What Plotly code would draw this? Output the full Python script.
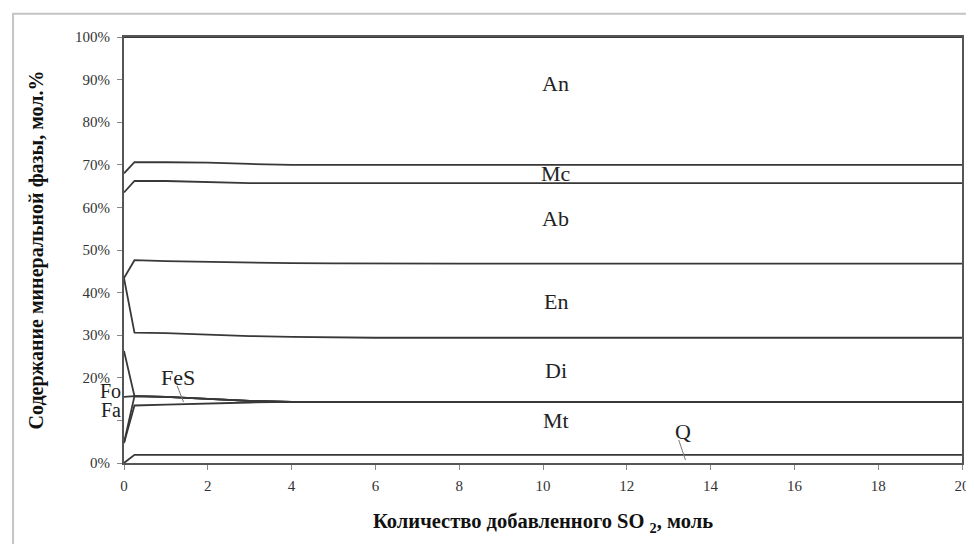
import plotly.graph_objects as go

# SO2 added, mol
so2 = [0, 0.25, 1, 2, 3, 4, 5, 6, 8, 10, 12, 14, 16, 18, 20]

# mineral phase content, mol.% (stacked from bottom to top)
Q   = [0.0, 1.9, 1.9, 1.9, 1.9, 1.9, 1.9, 1.9, 1.9, 1.9, 1.9, 1.9, 1.9, 1.9, 1.9]
Mt  = [4.7, 11.6, 11.8, 12.1, 12.3, 12.45, 12.4, 12.4, 12.4, 12.4, 12.4, 12.4, 12.4, 12.4, 12.4]
FeS = [0.0, 2.2, 1.8, 1.0, 0.4, 0.0, 0.0, 0.0, 0.0, 0.0, 0.0, 0.0, 0.0, 0.0, 0.0]
Fa  = [10.8, 0, 0, 0, 0, 0, 0, 0, 0, 0, 0, 0, 0, 0, 0]
Fo  = [10.8, 0, 0, 0, 0, 0, 0, 0, 0, 0, 0, 0, 0, 0, 0]
Di  = [17.1, 14.9, 15.0, 15.1, 15.2, 15.25, 15.2, 15.1, 15.1, 15.1, 15.1, 15.1, 15.1, 15.1, 15.1]
En  = [0.0, 17.0, 16.9, 17.1, 17.2, 17.3, 17.35, 17.4, 17.4, 17.4, 17.4, 17.4, 17.4, 17.4, 17.4]
Ab  = [20.1, 18.6, 18.8, 18.7, 18.7, 18.8, 18.85, 18.9, 18.9, 18.9, 18.9, 18.9, 18.9, 18.9, 18.9]
Mc  = [4.5, 4.4, 4.4, 4.6, 4.5, 4.3, 4.3, 4.3, 4.3, 4.3, 4.3, 4.3, 4.3, 4.3, 4.3]
An  = [32.0, 29.4, 29.4, 29.5, 29.8, 30.0, 30.0, 30.0, 30.0, 30.0, 30.0, 30.0, 30.0, 30.0, 30.0]

series = [("Q", Q), ("Mt", Mt), ("FeS", FeS), ("Fa", Fa), ("Fo", Fo),
          ("Di", Di), ("En", En), ("Ab", Ab), ("Mc", Mc), ("An", An)]

y_ticks = [0, 10, 20, 30, 40, 50, 60, 70, 80, 90, 100]
y_ticktext = ["0%", "", "20%", "30%", "40%", "50%", "60%", "70%", "80%", "90%", "100%"]
x_ticks = [0, 2, 4, 6, 8, 10, 12, 14, 16, 18, 20]

FONT = "Liberation Serif"
LINE = "#383838"

fig = go.Figure()
for name, vals in series:
    fig.add_trace(go.Scatter(
        x=so2, y=vals, name=name, mode="lines",
        stackgroup="one", groupnorm="percent",
        line=dict(color=LINE, width=1.8),
        fillcolor="rgba(0,0,0,0)",
        hoverinfo="x+y+name",
    ))

# region labels (data coordinates)
labels = [("An", 10.3, 89.0), ("Mc", 10.3, 67.9), ("Ab", 10.3, 57.3),
          ("En", 10.3, 38.0), ("Di", 10.3, 21.8), ("Mt", 10.3, 9.9)]
for txt, lx, ly in labels:
    fig.add_annotation(x=lx, y=ly, text=txt, showarrow=False,
                       font=dict(family=FONT, size=22, color="#222"))

# labels with leader lines
fig.add_annotation(x=13.33, y=7.5, text="Q", showarrow=False,
                   font=dict(family=FONT, size=22, color="#222"))
fig.add_shape(type="line", x0=13.24, y0=5.4, x1=13.4, y1=0.7,
              line=dict(color="#777", width=1))
fig.add_annotation(x=1.30, y=20.0, text="FeS", showarrow=False,
                   font=dict(family=FONT, size=22, color="#222"))
fig.add_shape(type="line", x0=1.27, y0=18.1, x1=1.42, y1=14.3,
              line=dict(color="#777", width=1))

# Fo / Fa labels left of the axis
fig.add_annotation(xref="paper", x=-0.001, y=16.9, text="Fo", showarrow=False,
                   xanchor="right", font=dict(family=FONT, size=20, color="#222"))
fig.add_annotation(xref="paper", x=-0.001, y=12.4, text="Fa", showarrow=False,
                   xanchor="right", font=dict(family=FONT, size=20, color="#222"))

# outer chart frame
fig.add_shape(type="rect", xref="paper", yref="paper",
              x0=-0.1324, y0=-0.23, x1=1.03, y1=1.0547,
              line=dict(color="#c4c4c4", width=2), layer="below")

fig.update_layout(
    width=974, height=544,
    margin=dict(l=116, r=12, t=29, b=89),
    paper_bgcolor="white", plot_bgcolor="white",
    showlegend=False,
    font=dict(family=FONT, size=15, color="#222"),
)
fig.update_xaxes(
    range=[0, 20], tickvals=x_ticks, ticks="outside", ticklen=5,
    tickcolor="#888", showgrid=False, zeroline=False,
    showline=True, linecolor="#555", linewidth=2, mirror=True,
    ticklabelstandoff=3,
    tickfont=dict(family=FONT, size=15, color="#333"),
    title=dict(text="<b>Количество добавленного SO <sub>2</sub>, моль</b>",
               font=dict(family=FONT, size=20.5, color="#111"), standoff=21),
)
fig.update_yaxes(
    range=[0, 100], tickvals=y_ticks, ticktext=y_ticktext,
    ticks="outside", ticklen=5, tickcolor="#888",
    showgrid=False, zeroline=False,
    showline=True, linecolor="#555", linewidth=2, mirror=True,
    ticklabelstandoff=4,
    tickfont=dict(family=FONT, size=15, color="#333"),
    title=dict(text="<b>Содержание минеральной фазы, мол.%</b>",
               font=dict(family=FONT, size=20, color="#111"), standoff=26),
)

fig.write_html("out.html")
